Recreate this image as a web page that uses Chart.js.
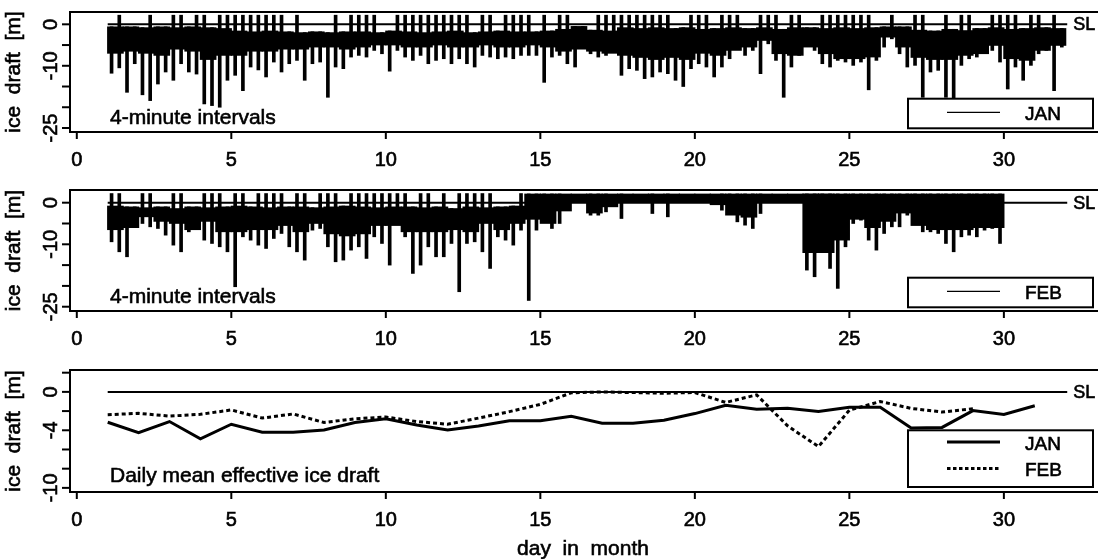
<!DOCTYPE html>
<html>
<head>
<meta charset="utf-8">
<script src="https://cdn.jsdelivr.net/npm/chart.js@4/dist/chart.umd.min.js"></script>
<style>
  html, body { margin: 0; padding: 0; background: #fff; width: 1098px; height: 559px; overflow: hidden; }
  canvas { position: absolute; left: 0; display: block; }
</style>
</head>
<body>
<canvas id="jan" width="1110" height="178" style="top:0"></canvas>
<canvas id="feb" width="1110" height="178" style="top:178px"></canvas>
<canvas id="daily" width="1110" height="203" style="top:356px"></canvas>
<script>
// x axis of every panel: day in month
const dayTicks = [0, 5, 10, 15, 20, 25, 30];
const draftTicks = [0, -5, -10, -15, -20, -25];
const draftLabels = [0, -10, -25];
const dailyTicks = [2, 0, -2, -4, -6, -8, -10];
const dailyLabels = [0, -4, -10];

const janMin = [-11.8, -10.5, -16.4, -9.5, -17, -18.4, -14.4, -11.5, -13.5, -9.5,
  -11.5, -12, -19.2, -19.6, -20, -13.5, -12.3, -16, -10.3, -11,
  -12.7, -9.1, -11.5, -9.5, -8.7, -13.5, -9.5, -9.1, -17.6, -10.3,
  -10.7, -7.9, -7.5, -7.9, -6.3, -7.1, -11.3, -6.3, -7.9, -8.7,
  -7.5, -9.5, -8.7, -8.3, -9.5, -8.3, -9.5, -10.3, -7.5, -7.9,
  -8.3, -7.9, -8.3, -7.5, -7.5, -7.5, -14, -7.9, -7.5, -9.5,
  -10.3, -5.5, -7.1, -7.9, -7.5, -5.5, -12.3, -10.7, -11.1, -13.1,
  -12.7, -11.5, -11.9, -13.5, -15, -10.7, -9.5, -10.3, -12.7, -10.3,
  -8.3, -5.1, -7.5, -6.3, -11.9, -4.7, -8.7, -17.6, -10.3, -7.5,
  -5.1, -6.3, -9.5, -10.3, -8.7, -9.1, -9.9, -9.1, -15.8, -8.7,
  -5.5, -3.5, -7.1, -10.3, -9.9, -17.6, -11.5, -11.1, -17.6, -18,
  -9.9, -8.3, -7.9, -5.9, -6.3, -9.1, -15.6, -10.3, -13.5, -9.9,
  -7.1, -6.3, -16, -5.5];
// highest value in each quarter where the record pops above sea level (null = stays below)
const janMax = [null, 2.2, null, null, null, 2.2, null, null, 2.2, 2.2,
  null, 2.2, 2.2, null, 2.2, 2.2, 2.2, 2.2, 2.2, 2.2,
  2.2, 2.2, 2.2, null, 2.2, null, null, null, null, 2.2,
  null, 2.2, 2.2, 2.2, 2.2, null, null, 2.2, 2.2, 2.2,
  2.2, 2.2, 2.2, 2.2, 2.2, 2.2, 2.2, null, 2.2, 2.2,
  null, 2.2, 2.2, 2.2, 2.2, null, 2.2, null, 2.2, 2.2,
  null, null, null, 2.2, 2.2, 2.2, 2.2, 2.2, 2.2, 2.2,
  2.2, 2.2, 2.2, null, null, 2.2, 2.2, 2.2, null, 2.2,
  2.2, 2.2, null, null, 2.2, 2.2, 2.2, null, 2.2, 2.2,
  null, null, 2.2, 2.2, 2.2, 2.2, 2.2, 2.2, 2.2, null,
  null, 2.2, null, null, 2.2, 2.2, null, null, 2.2, null,
  2.2, 2.2, null, null, 2.2, 2.2, 2.2, 2.2, null, 2.2,
  2.2, null, 2.2, null];
// solid part of the record per half day: upper and lower edge [m]
const janBandTop = [-0.6, -0.6, -0.8, -0.6, -0.8, -0.6, -0.8, -1.0,
  -1.6, -1.8, -1.6, -1.8, -2.0, -1.8, -2.0, -1.8, -1.8, -2.0,
  -1.6, -1.8, -2.0, -1.8, -1.6, -2.0, -1.8, -1.6, -1.8, -1.8, -1.6, -1.2,
  -0.5, -1.4, -1.6,
  -0.8, -1.0, -0.8, -1.0, -0.8, -1.2, -1.0,
  -0.8, -1.0, -0.8, -1.2, -0.8, -0.8, -1.0, -0.8, -1.0, -0.8,
  -0.6, -0.6, -1.4, -1.6, -1.2, -1.5, -1.0, -0.8, -1.2, -1.0, -0.8, -1.0];
const janBandBot = [-7.0, -6.5, -7.0, -7.5, -6.0, -6.5, -8.5, -7.5,
  -7.5, -6.5, -6.5, -6.0, -6.0, -5.5, -5.5, -6.0, -5.5, -5.0,
  -5.0, -5.5, -5.5, -5.0, -5.5, -5.5, -5.0, -5.5, -5.5, -5.0, -5.5, -6.5,
  -6.0, -6.5, -7.0,
  -7.5, -8.0, -8.5, -8.0, -8.5, -7.0, -7.5,
  -6.3, -5.5, -3.9, -7.1, -7.5, -5.5, -7.1, -8.3, -8.3, -7.9,
  -3.1, -5.5, -8.0, -8.5, -8.5, -7.5, -7.1, -5.1, -8.3, -8.7, -6.3, -5.1];

const febMin = [-9.4, -11.8, -13, -5, -5, -5.8, -6.2, -7.8, -10.2, -11.8,
  -7, -5, -9, -9.8, -10.6, -11.8, -20.2, -8.2, -9, -10.2,
  -11, -8.6, -7.4, -10.6, -11.8, -13.8, -6.6, -6.2, -10.6, -14.2,
  -13.8, -11.4, -10.6, -13.4, -8.2, -9.8, -15, -5, -8.2, -17,
  -15, -10.6, -13, -13, -9.8, -21.4, -9.8, -9.4, -11.8, -15.8,
  -8.2, -9, -10.2, -6.6, -23.5, -6.6, -4.6, -6.2, -5, null,
  null, null, -3, -3, -2.2, null, -3.8, null, null, null,
  -2.6, null, -3.4, null, null, null, null, null, null, -1.8,
  -2.2, -4.6, -5.4, -6.2, -2.6, null, null, null, null, null,
  -16.2, -17.8, -11.4, -15.8, -20.6, -10.6, -5, -4.2, -9, -11.4,
  -7.4, -5.8, -5.8, -3, -3.4, -7, -7, -7.4, -9.8, -11.8,
  -8.2, -7.8, -8.2, -6.6, -6.2, -9.8];
// after day 14.5 the open-water band already reaches above sea level
const febMax = [2.2, 2.2, null, null, 2.2, 2.2, null, null, 2.2, 2.2,
  null, null, 2.2, 2.2, 2.2, null, 2.2, 2.2, null, 2.2,
  2.2, 2.2, 2.2, null, 2.2, 2.2, null, 2.2, 2.2, 2.2,
  null, 2.2, 2.2, 2.2, 2.2, 2.2, 2.2, 2.2, 2.2, null,
  2.2, 2.2, null, 2.2, null, 2.2, 2.2, 2.2, 2.2, 2.2,
  null, null, null, 2.2];
const febBandTop = [-0.8, -1.0, -1.2, -1.0, -1.4, -1.0, -1.2, -1.0, -0.8, -1.0,
  -1.2, -1.0, -1.0, -1.2, -1.0, -0.8, -1.0, -1.2, -1.0, -1.0,
  -1.2, -1.0, -1.4, -1.0, -1.2, -1.0, -0.8,
  2.1, 2.1, 2.1, 2.1, 2.1, 2.1, 2.1, 2.1, 2.1, 2.1,
  2.1, 2.1, 2.1, 2.1, 2.1, 2.1, 2.1, 2.1, 2.1, 2.1,
  2.1, 2.1, 2.1, 2.1, 2.1, 2.1, 2.1, 2.1, 2.1, 2.1, 2.1];
const febBandBot = [-6.5, -6.0, -3.4, -4.5, -5.0, -6.5, -4.5, -7.0, -7.0, -6.5,
  -6.5, -5.5, -7.0, -5.0, -7.5, -8.0, -7.5, -5.5, -5.5, -7.0,
  -7.0, -7.0, -6.5, -7.0, -5.0, -6.5, -5.0, -4.0,
  -5.0, -2.0, 0, -2.5, -1.0, 0, 0, 0, 0, 0,
  0, -0.5, -3.0, -3.5, 0, 0, 0, -12, -12, -9,
  -4, -6, -4.5, -2.5, -5.5, -6.5, -6.5, -6.5, -6, -6];

// daily mean effective ice draft [m]
const dailyDays = [1, 2, 3, 4, 5, 6, 7, 8, 9, 10, 11, 12, 13, 14, 15, 16,
  17, 18, 19, 20, 21, 22, 23, 24, 25, 26, 27, 28, 29, 30, 31];
const janDaily = [-3.16, -4.26, -3.09, -4.9, -3.37, -4.2, -4.2, -3.97, -3.19, -2.8,
  -3.44, -3.97, -3.55, -3.0, -3.0, -2.55, -3.26, -3.26, -2.95, -2.26,
  -1.4, -1.8, -1.7, -2.05, -1.6, -1.6, -3.75, -3.7, -1.95, -2.35, -1.45];
const febDaily = [-2.38, -2.23, -2.52, -2.34, -1.88, -2.73, -2.3, -3.19, -2.8, -2.62,
  -3.09, -3.37, -2.73, -2.06, -1.3, -0.1, 0, -0.07, -0.14, -0.07,
  -1.1, -0.31, -3.54, -5.7, -1.91, -1.0, -1.72, -2.1, -1.75];

const FONT = '"Liberation Sans", Arial, Helvetica, sans-serif';
const firstDay = 1;
const quarter = 0.25;
const half = 0.5;
const slEnd = 32.05;

function spikePoints(mins, maxs, tops) {
  const pts = [];
  mins.forEach((lo, i) => {
    if (lo === null) return;
    const hi = maxs[i] ?? tops[Math.floor(i / 2)];
    pts.push({ x: firstDay + quarter * (i + 0.5), y: [lo, hi] });
  });
  return pts;
}

function bandPoints(tops, bots) {
  return tops.map((t, j) => ({ x: firstDay + half * (j + 0.5), y: [bots[j], t] }));
}

// the scanned print has slightly heavier letters, so fill and outline them
function text(ctx, s, x, y) {
  ctx.fillText(s, x, y);
  ctx.save();
  ctx.lineWidth = 0.6;
  ctx.strokeText(s, x, y);
  ctx.restore();
}

function frame(cfg) {
  return {
    id: "rFrame",
    afterDraw(chart) {
      const { ctx, chartArea: a, scales } = chart;
      const x = scales.x, y = scales.y;
      ctx.save();
      ctx.strokeStyle = "#000";
      ctx.fillStyle = "#000";
      ctx.lineWidth = 2;

      if (cfg.legend) {
        const L = cfg.legend;
        ctx.fillStyle = "#fff";
        ctx.fillRect(908, a.bottom - L.h, 185, L.h - L.gap);
        ctx.fillStyle = "#000";
        ctx.strokeRect(908, a.bottom - L.h, 185, L.h - L.gap);
        ctx.font = "19px " + FONT;
        ctx.textAlign = "left";
        ctx.textBaseline = "alphabetic";
        L.items.forEach((it) => {
          ctx.save();
          ctx.lineWidth = it.width;
          ctx.setLineDash(it.dash || []);
          ctx.beginPath();
          ctx.moveTo(947, a.bottom - it.line);
          ctx.lineTo(1000, a.bottom - it.line);
          ctx.stroke();
          ctx.restore();
          text(ctx, it.text, 1025, a.bottom - it.base);
        });
      }

      ctx.strokeRect(a.left, a.top, a.right - a.left, a.bottom - a.top);

      ctx.font = "20px " + FONT;
      ctx.textAlign = "center";
      ctx.textBaseline = "middle";
      dayTicks.forEach((d) => {
        const px = x.getPixelForValue(d);
        ctx.beginPath();
        ctx.moveTo(px, a.bottom);
        ctx.lineTo(px, a.bottom + 7);
        ctx.stroke();
        text(ctx, String(d), px, a.bottom + 28);
      });

      cfg.yTicks.forEach((v) => {
        const py = y.getPixelForValue(v);
        ctx.beginPath();
        ctx.moveTo(a.left - 8, py);
        ctx.lineTo(a.left, py);
        ctx.stroke();
      });
      cfg.yLabels.forEach((v) => {
        const py = y.getPixelForValue(v);
        ctx.save();
        ctx.translate(51, py);
        ctx.rotate(-Math.PI / 2);
        text(ctx, String(v), 0, 0);
        ctx.restore();
      });

      ctx.save();
      ctx.font = "21px " + FONT;
      ctx.translate(14, (a.top + a.bottom) / 2);
      ctx.rotate(-Math.PI / 2);
      text(ctx, "ice  draft  [m]", 0, 0);
      ctx.restore();

      ctx.font = "18px " + FONT;
      ctx.textAlign = "left";
      text(ctx, "SL", x.getPixelForValue(slEnd) + 6, y.getPixelForValue(0) + 1);

      ctx.font = "21px " + FONT;
      ctx.textBaseline = "alphabetic";
      text(ctx, cfg.note, 110, a.bottom - cfg.noteLift);

      if (cfg.xTitle) {
        ctx.textAlign = "center";
        ctx.textBaseline = "middle";
        text(ctx, "day  in  month", 583, a.bottom + 57);
      }
      ctx.restore();
    },
  };
}

function scalesFor(yMin, yMax) {
  return {
    x: { type: "linear", min: -0.22, max: 33.24, offset: false, display: false },
    y: { type: "linear", min: yMin, max: yMax, display: false },
  };
}

const common = {
  responsive: false,
  animation: false,
  events: [],
  plugins: { legend: { display: false }, tooltip: { enabled: false } },
};

function seaLevel() {
  return {
    type: "line",
    data: [{ x: firstDay, y: 0 }, { x: slEnd, y: 0 }],
    borderColor: "#000",
    borderWidth: 2,
    pointRadius: 0,
    order: 0,
  };
}

function recordChart(id, mins, maxs, tops, bots, pad, yMin, yMax, month) {
  new Chart(document.getElementById(id), {
    type: "bar",
    data: {
      datasets: [
        {
          data: bandPoints(tops, bots),
          backgroundColor: "#000",
          barThickness: 16,
          grouped: false,
          order: 2,
        },
        {
          data: spikePoints(mins, maxs, tops),
          backgroundColor: "#000",
          barThickness: 3,
          grouped: false,
          order: 1,
        },
        seaLevel(),
      ],
    },
    options: {
      ...common,
      layout: { padding: pad },
      scales: scalesFor(yMin, yMax),
    },
    plugins: [
      frame({
        yTicks: draftTicks,
        yLabels: draftLabels,
        note: "4-minute intervals",
        noteLift: 8,
        legend: { h: 33.3, gap: 3.7, items: [{ text: month, line: 19.7, base: 11.7, width: 1.3 }] },
      }),
    ],
  });
}

recordChart("jan", janMin, janMax, janBandTop, janBandBot,
  { left: 70, right: 6, top: 12, bottom: 46 }, -25.97, 2.97, "JAN");
recordChart("feb", febMin, febMax, febBandTop, febBandBot,
  { left: 70, right: 6, top: 12, bottom: 45 }, -26.03, 3.05, "FEB");

new Chart(document.getElementById("daily"), {
  type: "line",
  data: {
    datasets: [
      {
        data: janDaily.map((v, i) => ({ x: dailyDays[i], y: v })),
        borderColor: "#000",
        borderWidth: 3,
        pointRadius: 0,
        tension: 0,
      },
      {
        data: febDaily.map((v, i) => ({ x: dailyDays[i], y: v })),
        borderColor: "#000",
        borderWidth: 3,
        borderDash: [4, 3],
        pointRadius: 0,
        tension: 0,
      },
      seaLevel(),
    ],
  },
  options: {
    ...common,
    layout: { padding: { left: 70, right: 6, top: 14, bottom: 67 } },
    scales: scalesFor(-10.43, 2.28),
  },
  plugins: [
    frame({
      yTicks: dailyTicks,
      yLabels: dailyLabels,
      note: "Daily mean effective ice draft",
      noteLift: 10,
      xTitle: true,
      legend: {
        h: 61.7,
        gap: 5,
        items: [
          { text: "JAN", line: 50, base: 41.7, width: 3 },
          { text: "FEB", line: 23.4, base: 15.7, width: 3, dash: [3.5, 2.5] },
        ],
      },
    }),
  ],
});
</script>
</body>
</html>
